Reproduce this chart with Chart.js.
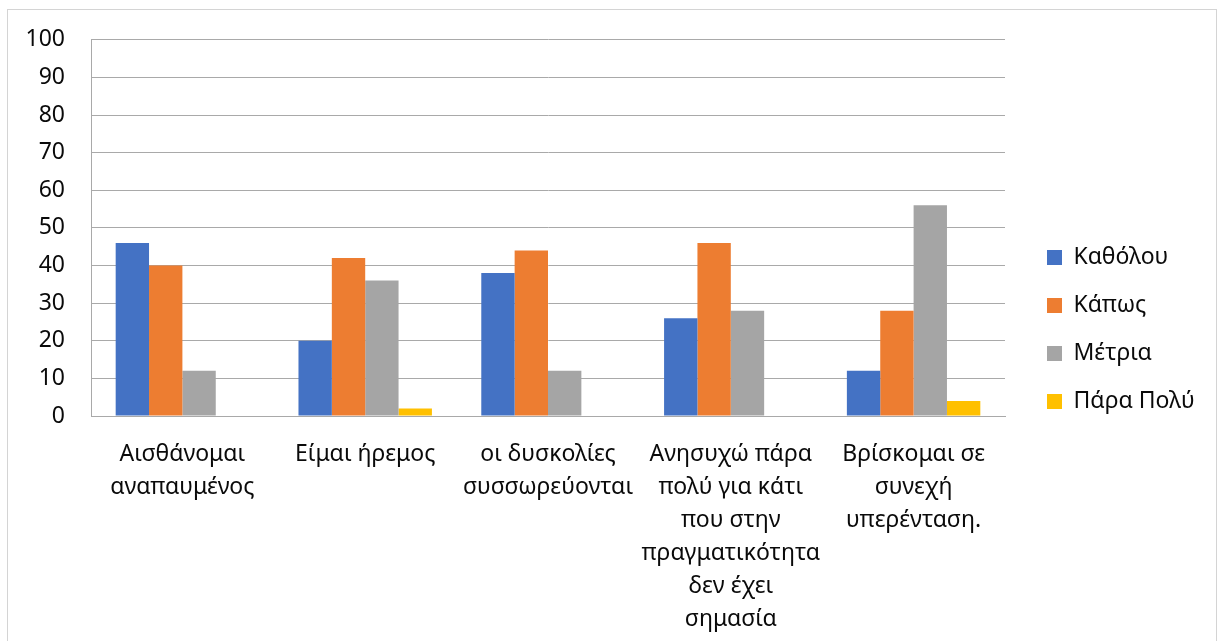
<!DOCTYPE html>
<html>
<head>
<meta charset="utf-8">
<script src="https://cdn.jsdelivr.net/npm/chart.js@4/dist/chart.umd.min.js"></script>
<style>
  html, body { margin: 0; padding: 0; background: #fff; }
  #frame { position: absolute; left: 7px; top: 9px; width: 1208px; height: 700px; border: 1px solid #d4d4d4; }
  #chart { position: absolute; left: 0; top: 0; }
</style>
</head>
<body>
<div id="frame"></div>
<canvas id="chart" width="1218" height="641"></canvas>
<script>
const categories = [
  ["Αισθάνομαι", "αναπαυμένος"],
  ["Είμαι ήρεμος"],
  ["οι δυσκολίες", "συσσωρεύονται"],
  ["Ανησυχώ πάρα", "πολύ για κάτι", "που στην", "πραγματικότητα", "δεν έχει", "σημασία"],
  ["Βρίσκομαι σε", "συνεχή", "υπερένταση."]
];
const seriesNames = ["Καθόλου", "Κάπως", "Μέτρια", "Πάρα Πολύ"];
const katholou = [46, 20, 38, 26, 12];
const kapos = [40, 42, 44, 46, 28];
const metria = [12, 36, 12, 28, 56];
const paraPoly = [0, 2, 0, 0, 4];
const yTicks = [0, 10, 20, 30, 40, 50, 60, 70, 80, 90, 100];

const colors = ["#4472C4", "#ED7D31", "#A5A5A5", "#FFC000"];
const fontFamily = "'Noto Sans', sans-serif";
const font = { family: fontFamily, size: 23 };
const textColor = "#0a0a0a";
const gridColor = "#a9a9a9";

// plot area edges in canvas pixels
const PLOT_RIGHT = 1005, PLOT_BOTTOM = 416;
const LEGEND_PAD = 25, LEGEND_BOX = 15;

// legend width as Chart.js computes it, so the plot ends where we want
const mctx = document.createElement("canvas").getContext("2d");
mctx.font = `${font.size}px ${fontFamily}`;
const maxLabelW = Math.max(...seriesNames.map(n => mctx.measureText(n).width));
const legendW = 10 + LEGEND_PAD + LEGEND_BOX + font.size / 2 + maxLabelW;
const padRight = Math.max(0, 1218 - PLOT_RIGHT - legendW);

// nudge the legend away from the plot like the office layout does
const LEGEND_DX = 17, LEGEND_DY = -10;
const legendShift = {
  id: "legendShift",
  afterLayout(chart) {
    const lg = chart.legend;
    if (!lg) return;
    lg.left += LEGEND_DX; lg.right += LEGEND_DX;
    lg.top += LEGEND_DY; lg.bottom += LEGEND_DY;
  }
};

new Chart(document.getElementById("chart"), {
  type: "bar",
  data: {
    labels: categories,
    datasets: [katholou, kapos, metria, paraPoly].map((d, i) => ({
      label: seriesNames[i],
      data: d,
      backgroundColor: colors[i],
      borderWidth: 0,
      barPercentage: 1,
      categoryPercentage: 0.73
    }))
  },
  options: {
    responsive: false,
    animation: false,
    devicePixelRatio: 1,
    layout: { padding: { top: 38, bottom: 0, left: 0, right: padRight } },
    plugins: {
      tooltip: { enabled: false },
      legend: {
        position: "right",
        labels: {
          font,
          color: textColor,
          boxWidth: LEGEND_BOX,
          boxHeight: LEGEND_BOX,
          padding: LEGEND_PAD
        }
      }
    },
    scales: {
      x: {
        afterFit(scale) { scale.height = 641 - PLOT_BOTTOM; },
        grid: { display: false, drawTicks: false },
        border: { display: true, color: gridColor, width: 1 },
        ticks: {
          font: { ...font, lineHeight: 33 / 23 },
          color: textColor,
          padding: 22,
          maxRotation: 0,
          autoSkip: false
        }
      },
      y: {
        min: 0,
        max: 100,
        afterFit(scale) { scale.width = 91; },
        afterBuildTicks(scale) { scale.ticks = yTicks.map(v => ({ value: v })); },
        grid: { color: gridColor, lineWidth: 1, drawTicks: false },
        border: { display: true, color: gridColor, width: 1 },
        ticks: { font, color: textColor, padding: 26 }
      }
    }
  },
  plugins: [legendShift]
});
</script>
</body>
</html>
